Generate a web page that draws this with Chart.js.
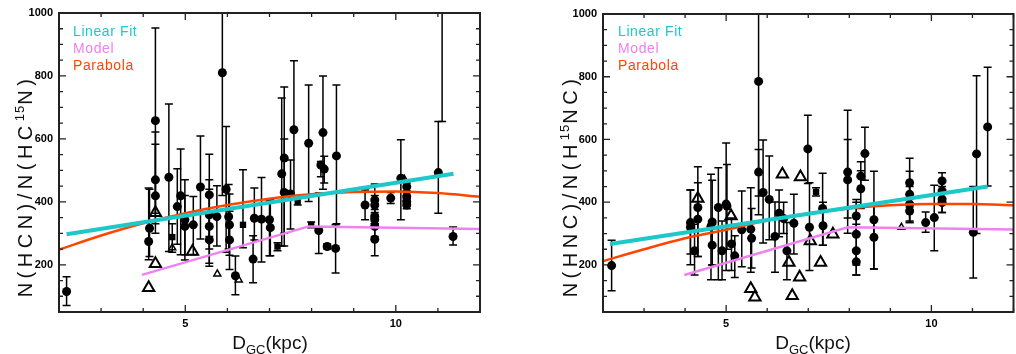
<!DOCTYPE html>
<html>
<head>
<meta charset="utf-8">
<script src="https://cdn.jsdelivr.net/npm/chart.js@4.4.1/dist/chart.umd.min.js"></script>
<style>
html, body { margin: 0; padding: 0; background: #fff; overflow: hidden; width: 1016px; height: 354px; }
canvas { position: absolute; top: 0; }
.txt { position: absolute; font-family: "Liberation Sans", Arial, sans-serif; color: #111; white-space: nowrap; }
.legend { font-size: 14px; line-height: 14px; letter-spacing: 0.6px; }
.xtitle { font-size: 19px; line-height: 19px; width: 200px; text-align: center; }
.xtitle span { font-size: 13px; position: relative; top: 5px; }
.ytitle { font-size: 20px; line-height: 24px; width: 300px; height: 24px; text-align: center; transform: rotate(-90deg); letter-spacing: 4.5px; text-indent: 4px; }
.ytitle span { font-size: 13px; position: relative; top: -8px; letter-spacing: 1px; }
</style>
</head>
<body>
<canvas id="hcn" width="500" height="354" style="left:0"></canvas>
<canvas id="hnc" width="478" height="354" style="left:544px"></canvas>

<div class="txt legend" style="left:73px;top:24px;color:#1cc8c8">Linear Fit</div>
<div class="txt legend" style="left:73px;top:41px;color:#ee82ee">Model</div>
<div class="txt legend" style="left:73px;top:58px;color:#ff4500">Parabola</div>
<div class="txt legend" style="left:618px;top:24px;color:#1cc8c8">Linear Fit</div>
<div class="txt legend" style="left:618px;top:41px;color:#ee82ee">Model</div>
<div class="txt legend" style="left:618px;top:58px;color:#ff4500">Parabola</div>

<div class="txt xtitle" style="left:170px;top:333px">D<span>GC</span>(kpc)</div>
<div class="txt xtitle" style="left:713px;top:333px">D<span>GC</span>(kpc)</div>
<div class="txt ytitle" style="left:-125px;top:176px">N(HCN)/N(HC<span>15</span>N)</div>
<div class="txt ytitle" style="left:420px;top:176px">N(HNC)/N(H<span>15</span>NC)</div>

<script>
// ---- HCN / HC15N panel ----
const hcnX = [2.18, 4.13, 4.15, 4.29, 4.29, 4.29, 4.61, 4.81, 4.89, 4.99, 4.99, 5.19, 5.36, 5.57, 5.57, 5.57, 5.57, 5.75, 5.88, 5.97, 6.03, 6.05, 6.05, 6.19, 6.64, 6.61, 6.81, 7.00, 7.02, 7.29, 7.35, 7.35, 7.50, 7.58, 7.93, 8.17, 8.27, 8.22, 8.30, 8.37, 8.57, 8.59, 9.27, 9.50, 9.50, 9.50, 9.50, 9.50, 9.50, 9.88, 10.12, 10.26, 10.26, 10.26, 10.26, 11.01, 11.10, 11.36];
const hcnY = [115, 274, 316, 658, 470, 419, 478, 385, 419, 343, 322, 327, 447, 422, 359, 322, 279, 353, 810, 440, 353, 327, 279, 165, 348, 218, 345, 343, 318, 489, 539, 430, 425, 629, 586, 309, 620, 517, 504, 258, 252, 546, 390, 406, 390, 353, 343, 322, 281, 412, 475, 448, 417, 401, 390, 493, 1300, 290];
const hcnLo = [71, 216, 226, 364, 330, 300, 242, 265, 232, 215, 232, 232, 282, 290, 250, 205, 195, 260, 420, 240, 250, 230, 185, 105, 279, 143, 209, 229, 229, 260, 300, 260, 314, 410, 401, 236, 440, 480, 460, 250, 174, 330, 343, 357, 360, 330, 320, 290, 229, 395, 343, 435, 405, 390, 378, 364, 655, 263];
const hcnHi = [162, 444, 440, 952, 622, 583, 711, 505, 568, 470, 420, 417, 609, 551, 470, 440, 363, 451, 1200, 639, 455, 425, 370, 228, 444, 292, 477, 406, 406, 730, 765, 600, 533, 848, 771, 428, 800, 528, 545, 266, 327, 771, 438, 457, 420, 376, 366, 350, 330, 430, 597, 460, 430, 412, 402, 655, 1900, 320];
const hcnSqX = [4.69, 6.37, 7.19, 7.67, 7.99];
const hcnSqY = [288, 327, 258, 401, 327];
const hcnSqLo = [240, 254, 245, 390, 318];
const hcnSqHi = [330, 502, 270, 412, 336];
const hcnTriX = [4.13, 4.29, 4.29, 5.17];
const hcnTriY = [127, 203, 365, 242];
const hcnTriSmallX = [4.69, 5.76, 6.27, 10.2];
const hcnTriSmallY = [254, 171, 152, 472];
const hcnFitX = [2.18, 11.37];
const hcnFitY = [297, 489];
const hcnModelX = [3.97, 7.93, 12];
const hcnModelY = [168, 322, 314];
const hcnParaX = [2, 3, 4, 5, 6, 7, 8, 9, 10, 11, 12];
const hcnParaY = [248, 293, 332, 364, 390, 410, 424, 431, 433, 428, 416];

// ---- HNC / H15NC panel ----
const hncX = [2.21, 4.13, 4.13, 4.23, 4.31, 4.31, 4.63, 4.66, 4.66, 4.81, 4.90, 5.00, 5.02, 5.13, 5.21, 5.38, 5.60, 5.62, 5.79, 5.79, 5.90, 6.05, 6.19, 6.29, 6.40, 6.48, 6.65, 6.99, 7.03, 7.35, 7.36, 7.96, 7.96, 8.17, 8.17, 8.17, 8.17, 8.28, 8.28, 8.38, 8.60, 8.60, 9.47, 9.47, 9.47, 9.47, 9.86, 10.07, 10.26, 10.26, 10.26, 10.26, 11.02, 11.10, 11.37];
const hncY = [198, 335, 320, 245, 383, 346, 323, 337, 263, 383, 245, 394, 388, 267, 229, 312, 314, 285, 785, 496, 431, 409, 291, 365, 348, 245, 333, 570, 320, 380, 325, 496, 471, 356, 298, 245, 210, 483, 443, 555, 344, 288, 462, 425, 394, 372, 335, 351, 468, 436, 410, 399, 304, 554, 640];
const hncLo = [118, 235, 201, 168, 227, 227, 153, 200, 200, 153, 153, 182, 250, 182, 160, 194, 177, 190, 360, 420, 270, 280, 177, 290, 300, 153, 235, 460, 182, 263, 263, 301, 350, 300, 200, 168, 168, 440, 380, 470, 187, 187, 385, 340, 335, 335, 304, 245, 440, 400, 367, 367, 158, 300, 452];
const hncHi = [279, 439, 439, 330, 513, 462, 489, 470, 330, 510, 340, 589, 520, 350, 293, 436, 446, 380, 1200, 568, 598, 547, 401, 439, 400, 335, 425, 677, 462, 492, 400, 693, 600, 409, 400, 330, 250, 529, 500, 639, 499, 390, 540, 499, 450, 410, 369, 454, 494, 470, 450, 430, 450, 803, 830];
const hncSqX = [7.19];
const hncSqY = [433];
const hncSqLo = [420];
const hncSqHi = [446];
const hncTriX = [4.31, 5.12, 5.60, 5.70, 6.37, 6.81, 6.53, 6.79, 6.61, 7.05, 7.30, 7.60];
const hncTriY = [412, 356, 124, 97, 489, 480, 208, 161, 102, 276, 208, 298];
const hncTriSmallX = [9.27];
const hncTriSmallY = [320];
const hncFitX = [2.17, 11.37];
const hncFitY = [267, 450];
const hncModelX = [3.98, 7.96, 12];
const hncModelY = [168, 320, 313];
const hncParaX = [2, 3, 4, 5, 6, 7, 8, 9, 10, 11, 12];
const hncParaY = [212, 250, 285, 312, 342, 364, 380, 390, 394, 394, 390];

Chart.defaults.font.family = '"Liberation Sans", Arial, sans-serif';
Chart.defaults.color = '#000';

function pts(xs, ys) {
    return xs.map((x, i) => ({x: x, y: ys[i]}));
}

// vertical error bars with caps, drawn under the points
const errorBars = {
    id: 'errorBars',
    beforeDatasetsDraw(chart) {
        const {ctx, chartArea: a, scales: {x, y}} = chart;
        ctx.save();
        ctx.beginPath();
        ctx.rect(a.left, a.top, a.right - a.left, a.bottom - a.top);
        ctx.clip();
        ctx.strokeStyle = '#000';
        ctx.lineWidth = 1.5;
        chart.data.datasets.forEach(ds => {
            if (!ds.errLo) return;
            ds.data.forEach((p, i) => {
                const px = x.getPixelForValue(p.x);
                const lo = y.getPixelForValue(ds.errLo[i]);
                const hi = y.getPixelForValue(ds.errHi[i]);
                ctx.beginPath();
                ctx.moveTo(px, lo); ctx.lineTo(px, hi);
                ctx.moveTo(px - 4, lo); ctx.lineTo(px + 4, lo);
                ctx.moveTo(px - 4, hi); ctx.lineTo(px + 4, hi);
                ctx.stroke();
            });
        });
        ctx.restore();
    }
};

// box frame with inward ticks on all four sides
const frameTicks = {
    id: 'frameTicks',
    afterDraw(chart) {
        const {ctx, chartArea: a, scales: {x, y}} = chart;
        ctx.save();
        ctx.strokeStyle = '#222';
        ctx.lineWidth = 1.3;
        ctx.beginPath();
        x.ticks.forEach(t => {
            const px = x.getPixelForValue(t.value);
            const len = t.value % 5 === 0 ? 7 : 4;
            ctx.moveTo(px, a.bottom); ctx.lineTo(px, a.bottom - len);
            ctx.moveTo(px, a.top); ctx.lineTo(px, a.top + len);
        });
        y.ticks.forEach(t => {
            const py = y.getPixelForValue(t.value);
            const len = t.value % 200 === 0 ? 7 : 4;
            ctx.moveTo(a.left, py); ctx.lineTo(a.left + len, py);
            ctx.moveTo(a.right, py); ctx.lineTo(a.right - len, py);
        });
        ctx.stroke();
        ctx.lineWidth = 2;
        ctx.strokeRect(a.left, a.top, a.right - a.left, a.bottom - a.top);
        ctx.restore();
    }
};

function makeChart(id, d) {
    const datasets = [
        // lines first so they sit on top
        {data: pts(d.fitX, d.fitY), showLine: true, borderColor: '#1cc8c8', borderWidth: 4, pointRadius: 0},
        {data: pts(d.paraX, d.paraY), showLine: true, borderColor: '#ff4500', borderWidth: 2.5, pointRadius: 0, tension: 0.4, cubicInterpolationMode: 'monotone'},
        {data: pts(d.modelX, d.modelY), showLine: true, borderColor: '#ee82ee', borderWidth: 2.5, pointRadius: 0},
        {data: pts(d.x, d.y), errLo: d.lo, errHi: d.hi, pointStyle: 'circle', pointRadius: 4.5, backgroundColor: '#000', borderColor: '#000', borderWidth: 0},
        {data: pts(d.sqX, d.sqY), errLo: d.sqLo, errHi: d.sqHi, pointStyle: 'rect', pointRadius: 4.5, backgroundColor: '#000', borderColor: '#000', borderWidth: 0},
        {data: pts(d.triX, d.triY), pointStyle: 'triangle', pointRadius: 6.5, backgroundColor: 'rgba(0,0,0,0)', borderColor: '#000', borderWidth: 2},
        {data: pts(d.triSmallX, d.triSmallY), pointStyle: 'triangle', pointRadius: 4, backgroundColor: 'rgba(0,0,0,0)', borderColor: '#000', borderWidth: 1.5}
    ];

    return new Chart(document.getElementById(id), {
        type: 'scatter',
        data: {datasets: datasets},
        options: {
            responsive: false,
            animation: false,
            layout: {padding: {top: d.top, right: d.right, left: 0, bottom: 0}},
            plugins: {legend: {display: false}, tooltip: {enabled: false}},
            scales: {
                x: {
                    type: 'linear', min: 2, max: 12,
                    grid: {display: false, drawTicks: false},
                    border: {display: false},
                    ticks: {
                        stepSize: 1, autoSkip: false, maxRotation: 0, padding: 5,
                        font: {size: 11, weight: 'bold'},
                        callback: v => (v === 5 || v === 10) ? String(v) : ''
                    },
                    afterFit: s => { s.height = 42; }
                },
                y: {
                    type: 'linear', min: 50, max: 1000,
                    grid: {display: false, drawTicks: false},
                    border: {display: false},
                    ticks: {
                        stepSize: 50, autoSkip: false, padding: 6,
                        font: {size: 11, weight: 'bold'},
                        callback: v => v % 200 === 0 ? String(v) : ''
                    },
                    afterFit: s => { s.width = 59; }
                }
            }
        },
        plugins: [errorBars, frameTicks]
    });
}

makeChart('hcn', {
    x: hcnX, y: hcnY, lo: hcnLo, hi: hcnHi,
    sqX: hcnSqX, sqY: hcnSqY, sqLo: hcnSqLo, sqHi: hcnSqHi,
    triX: hcnTriX, triY: hcnTriY, triSmallX: hcnTriSmallX, triSmallY: hcnTriSmallY,
    fitX: hcnFitX, fitY: hcnFitY, modelX: hcnModelX, modelY: hcnModelY,
    paraX: hcnParaX, paraY: hcnParaY, top: 13, right: 20
});

makeChart('hnc', {
    x: hncX, y: hncY, lo: hncLo, hi: hncHi,
    sqX: hncSqX, sqY: hncSqY, sqLo: hncSqLo, sqHi: hncSqHi,
    triX: hncTriX, triY: hncTriY, triSmallX: hncTriSmallX, triSmallY: hncTriSmallY,
    fitX: hncFitX, fitY: hncFitY, modelX: hncModelX, modelY: hncModelY,
    paraX: hncParaX, paraY: hncParaY, top: 14, right: 0
});
</script>
</body>
</html>
